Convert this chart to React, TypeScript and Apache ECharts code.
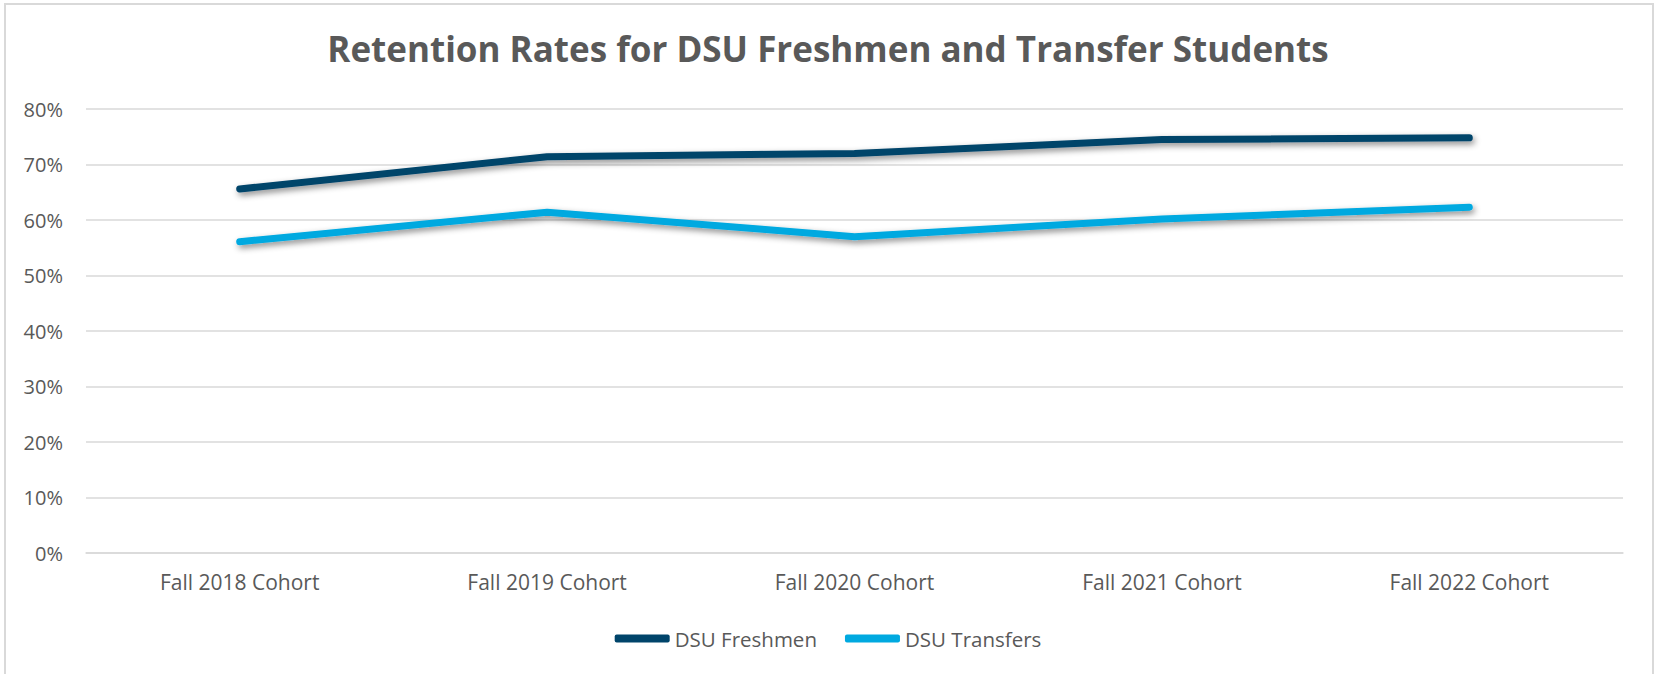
import React, { useEffect, useRef } from "react";
import * as echarts from "echarts";

const categories = ["Fall 2018 Cohort", "Fall 2019 Cohort", "Fall 2020 Cohort", "Fall 2021 Cohort", "Fall 2022 Cohort"];
const freshmen = [65.6, 71.4, 72.0, 74.5, 74.8];
const transfers = [56.1, 61.4, 57.0, 60.2, 62.3];
const seriesNames = ["DSU Freshmen", "DSU Transfers"];
const titleText = "Retention Rates for DSU Freshmen and Transfer Students";

const FONT = "'Open Sans', sans-serif";
const TXT = "#595959";

export default function App() {
  const ref = useRef<HTMLDivElement>(null);
  useEffect(() => {
    document.body.style.margin = "0";
    const chart = echarts.init(ref.current!, null, { renderer: "svg" });
    const shadow = {
      shadowColor: "rgba(0,0,0,0.45)",
      shadowBlur: 6,
      shadowOffsetX: 2,
      shadowOffsetY: 3,
    };
    chart.setOption({
      animation: false,
      backgroundColor: "#ffffff",
      title: {
        text: titleText,
        left: "center",
        top: 26,
        textStyle: { fontFamily: FONT, fontWeight: "bold", fontSize: 35, color: TXT },
      },
      graphic: [
        {
          type: "rect",
          shape: { x: 5, y: 4, width: 1648, height: 690 },
          style: { fill: "none", stroke: "#d9d9d9", lineWidth: 2 },
          silent: true,
        },
      ],
      legend: {
        data: seriesNames,
        left: "center",
        top: 623,
        icon: "roundRect",
        itemWidth: 55,
        itemHeight: 8,
        itemGap: 28,
        textStyle: { fontFamily: FONT, fontSize: 20.5, color: TXT },
      },
      grid: { left: 86, right: 33, top: 109, bottom: 121 },
      xAxis: {
        type: "category",
        data: categories,
        boundaryGap: true,
        axisLine: { show: true, lineStyle: { color: "#d9d9d9", width: 1.5 } },
        axisTick: { show: false },
        axisLabel: { fontFamily: FONT, fontSize: 21, color: TXT, margin: 18 },
      },
      yAxis: {
        type: "value",
        min: 0,
        max: 80,
        interval: 10,
        axisLine: { show: false },
        axisTick: { show: false },
        splitLine: { lineStyle: { color: "#d9d9d9", width: 1.5 } },
        axisLabel: { fontFamily: FONT, fontSize: 20, color: TXT, margin: 23, formatter: "{value}%" },
      },
      series: [
        {
          name: seriesNames[0],
          type: "line",
          data: freshmen,
          symbol: "none",
          color: "#00446A",
          lineStyle: { width: 7, color: "#00446A", cap: "round", join: "round", ...shadow },
        },
        {
          name: seriesNames[1],
          type: "line",
          data: transfers,
          symbol: "none",
          color: "#00A9E0",
          lineStyle: { width: 7, color: "#00A9E0", cap: "round", join: "round", ...shadow },
        },
      ],
    });
    return () => chart.dispose();
  }, []);
  return <div ref={ref} style={{ width: 1656, height: 674 }} />;
}
